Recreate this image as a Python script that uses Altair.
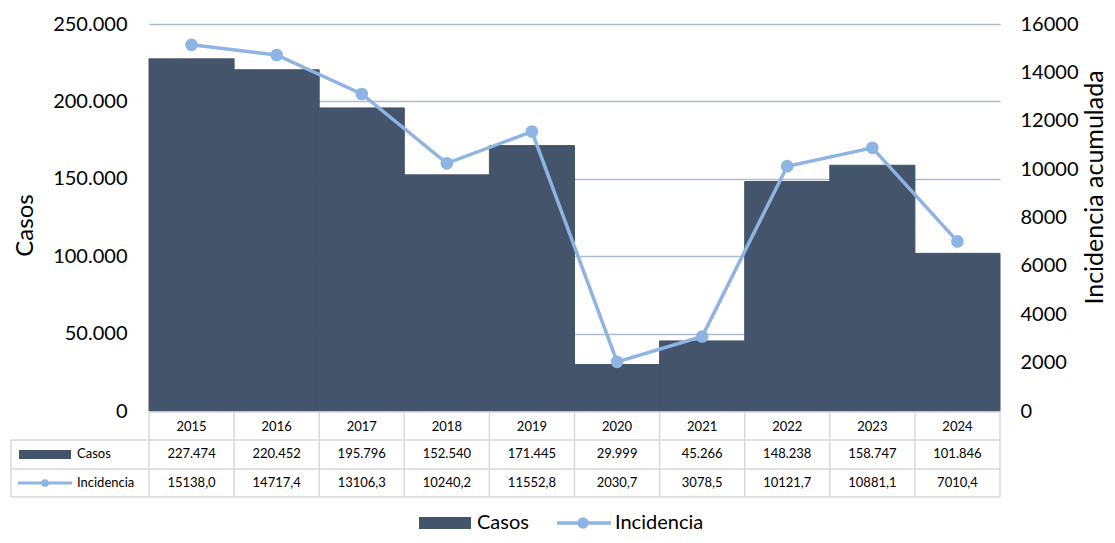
import altair as alt
import pandas as pd

years = ["2015", "2016", "2017", "2018", "2019", "2020", "2021", "2022", "2023", "2024"]
casos = [227474, 220452, 195796, 152540, 171445, 29999, 45266, 148238, 158747, 101846]
incidencia = [15138.0, 14717.4, 13106.3, 10240.2, 11552.8, 2030.7, 3078.5, 10121.7, 10881.1, 7010.4]

BAR = "#44546A"
LINE = "#8EB4E3"
GRID = "#AEBACE"
BORDER = "#D9D9D9"
FONT = "Lato"

df = pd.DataFrame({"year": years, "casos": casos, "inc": incidencia})
df["casos_txt"] = [f"{v:,}".replace(",", ".") for v in casos]
df["inc_txt"] = [f"{v:.1f}".replace(".", ",") for v in incidencia]

W, H = 851, 387

xenc = alt.X("year:N", sort=years, axis=None,
             scale=alt.Scale(paddingInner=0, paddingOuter=0))

base = alt.Chart(df)

bars = base.mark_bar(color=BAR, stroke=BAR, strokeWidth=1).encode(
    x=xenc,
    y=alt.Y("casos:Q",
            scale=alt.Scale(domain=[0, 250000]),
            axis=alt.Axis(values=[0, 50000, 100000, 150000, 200000, 250000],
                          labelExpr="replace(format(datum.value, ','), ',', '.')",
                          labelFontSize=20, labelFont=FONT, labelColor="#000",
                          labelPadding=22, ticks=False, domain=False,
                          grid=True, gridColor=GRID, gridWidth=1.5,
                          title="Casos", titleFontSize=24, titleFont=FONT,
                          titleFontWeight="normal", titleColor="#000",
                          titleAngle=270, titleX=-124, titleY=201,
                          titleBaseline="middle", titleAlign="center")),
)

line = base.mark_line(color=LINE, strokeWidth=3.5,
                      point=alt.OverlayMarkDef(color=LINE, size=160, filled=True, opacity=1)).encode(
    x=xenc,
    y=alt.Y("inc:Q",
            scale=alt.Scale(domain=[0, 16000]),
            axis=alt.Axis(orient="right", values=list(range(0, 16001, 2000)),
                          format="d", labelFontSize=20, labelFont=FONT, labelColor="#000",
                          labelPadding=20, ticks=False, domain=False, grid=False,
                          title="Incidencia acumulada", titleFontSize=25, titleFont=FONT,
                          titleFontWeight="normal", titleColor="#000",
                          titleAngle=270, titleX=94, titleY=163,
                          titleBaseline="middle", titleAlign="center")),
)

# ---- data table below the chart ----
one = alt.Chart(pd.DataFrame({"k": [0]}))

hrules = alt.Chart(pd.DataFrame({"yy": [416, 445, 473]})).mark_rule(
    color=BORDER, strokeWidth=1.5).encode(
    x=alt.value(-138), x2=alt.value(W), y=alt.Y("yy:Q", scale=None))
htop = one.mark_rule(color=BORDER, strokeWidth=1.5).encode(
    x=alt.value(0), x2=alt.value(W), y=alt.value(388))
vrules = base.mark_rule(color=BORDER, strokeWidth=1.5).encode(
    x=alt.X("year:N", sort=years, axis=None, bandPosition=0,
            scale=alt.Scale(paddingInner=0, paddingOuter=0)),
    y=alt.value(388), y2=alt.value(473))
vlast = one.mark_rule(color=BORDER, strokeWidth=1.5).encode(
    x=alt.value(W), y=alt.value(388), y2=alt.value(473))
vleft = one.mark_rule(color=BORDER, strokeWidth=1.5).encode(
    x=alt.value(-138), y=alt.value(416), y2=alt.value(473))

txt_kw = dict(font=FONT, fontSize=13, color="#000", baseline="middle")
t_year = base.mark_text(**txt_kw).encode(x=xenc, y=alt.value(403), text="year:N")
t_casos = base.mark_text(**txt_kw).encode(x=xenc, y=alt.value(430), text="casos_txt:N")
t_inc = base.mark_text(**txt_kw).encode(x=xenc, y=alt.value(459), text="inc_txt:N")

k_rect = one.mark_rect(color=BAR).encode(
    x=alt.value(-130), x2=alt.value(-78), y=alt.value(426), y2=alt.value(435))
k_casos = one.mark_text(align="left", **txt_kw).encode(
    x=alt.value(-72), y=alt.value(430), text=alt.value("Casos"))
k_line = one.mark_rule(color=LINE, strokeWidth=3).encode(
    x=alt.value(-131), x2=alt.value(-77), y=alt.value(459))
k_pt = one.mark_point(color=LINE, filled=True, opacity=1, size=60).encode(
    x=alt.value(-104), y=alt.value(459))
k_inc = one.mark_text(align="left", **txt_kw).encode(
    x=alt.value(-72), y=alt.value(459), text=alt.value("Incidencia"))

# ---- legend ----
LY = 499
leg_kw = dict(font=FONT, fontSize=20, color="#000", baseline="middle", align="left")
l_rect = one.mark_rect(color=BAR).encode(
    x=alt.value(270), x2=alt.value(322), y=alt.value(LY - 6), y2=alt.value(LY + 6))
l_casos = one.mark_text(**leg_kw).encode(x=alt.value(328), y=alt.value(LY), text=alt.value("Casos"))
l_line = one.mark_rule(color=LINE, strokeWidth=3.5).encode(
    x=alt.value(408), x2=alt.value(462), y=alt.value(LY))
l_pt = one.mark_point(color=LINE, filled=True, opacity=1, size=130).encode(
    x=alt.value(434), y=alt.value(LY))
l_inc = one.mark_text(**leg_kw).encode(x=alt.value(466), y=alt.value(LY), text=alt.value("Incidencia"))

chart = alt.layer(
    bars, line,
    hrules, htop, vrules, vlast, vleft,
    t_year, t_casos, t_inc,
    k_rect, k_casos, k_line, k_pt, k_inc,
    l_rect, l_casos, l_line, l_pt, l_inc,
).resolve_scale(y="independent").properties(
    width=W, height=H,
    autosize=alt.AutoSizeParams(type="none"),
    padding={"left": 141, "top": 16, "right": 107, "bottom": 124},
    background="white",
).configure_view(stroke=None)

chart.save("out.html", embed_options={"renderer": "svg", "actions": False})
